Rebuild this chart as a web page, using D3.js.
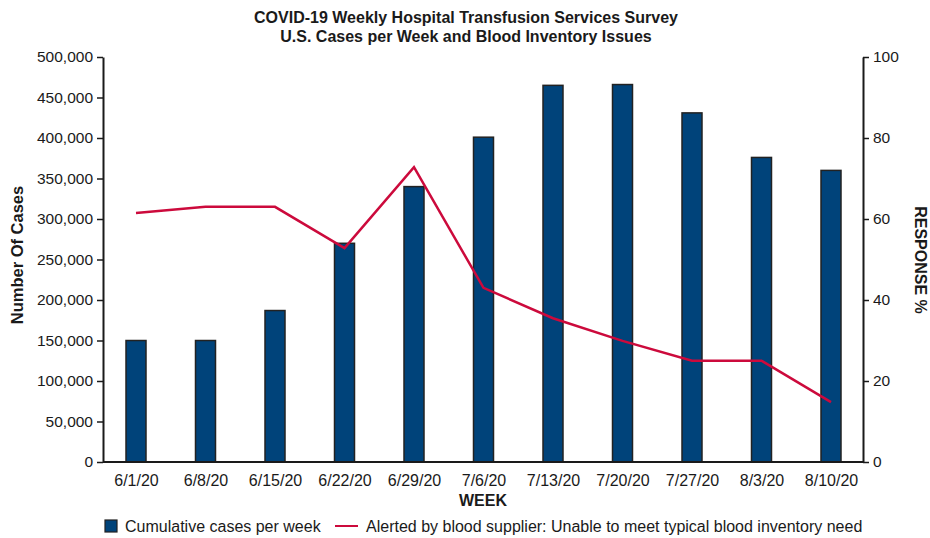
<!DOCTYPE html>
<html>
<head>
<meta charset="utf-8">
<script src="https://cdn.jsdelivr.net/npm/d3@7"></script>
<style>
  body { margin: 0; background: #fff; }
  text { font-family: "Liberation Sans", Arial, sans-serif; fill: #1a1a1a; }
</style>
</head>
<body>
<div id="chart"></div>
<script>
// data
const weeks = ["6/1/20", "6/8/20", "6/15/20", "6/22/20", "6/29/20", "7/6/20",
               "7/13/20", "7/20/20", "7/27/20", "8/3/20", "8/10/20"];
const cases = [150000, 150000, 187000, 270000, 340000, 401000,
               465000, 466000, 431000, 376000, 360000];
const alerted = [61.5, 63, 63, 52.8, 72.8, 43, 35.5, 29.9, 25, 25, 14.8];
const leftTicks = [0, 50000, 100000, 150000, 200000, 250000, 300000, 350000, 400000, 450000, 500000];
const rightTicks = [0, 20, 40, 60, 80, 100];

const W = 930, H = 538;
const margin = {top: 57, right: 67, bottom: 76, left: 103};
const width = W - margin.left - margin.right,
      height = H - margin.top - margin.bottom;

const svg = d3.select("#chart").append("svg")
    .attr("width", W).attr("height", H);

// title
svg.append("text").attr("x", 466).attr("y", 23).attr("text-anchor", "middle")
  .style("font-weight", "bold").style("font-size", "16px")
  .text("COVID-19 Weekly Hospital Transfusion Services Survey");
svg.append("text").attr("x", 466).attr("y", 42).attr("text-anchor", "middle")
  .style("font-weight", "bold").style("font-size", "16px")
  .text("U.S. Cases per Week and Blood Inventory Issues");

const g = svg.append("g").attr("transform", `translate(${margin.left},${margin.top})`);

// week centres sit a little off the band centres in the original
const x = d3.scalePoint().domain(weeks).range([33, width - 32]);
const y = d3.scaleLinear().domain([0, 500000]).range([height, 0]);
const y2 = d3.scaleLinear().domain([0, 100]).range([height, 0]);

// bars
g.selectAll("rect.bar")
  .data(weeks)
  .enter().append("rect")
  .attr("class", "bar")
  .attr("x", (d) => x(d) - 10)
  .attr("width", 20)
  .attr("y", (d, i) => y(cases[i]))
  .attr("height", (d, i) => height - y(cases[i]))
  .attr("fill", "#00437a")
  .attr("stroke", "#222")
  .attr("stroke-width", 1.5);

// line
const line = d3.line()
  .x((d, i) => x(weeks[i]))
  .y((d) => y2(d));
g.append("path")
  .datum(alerted)
  .attr("fill", "none")
  .attr("stroke", "#cc0a3c")
  .attr("stroke-width", 2.5)
  .attr("d", line);

// axes
const fmt = d3.format(",");
const yAxis = g.append("g")
  .call(d3.axisLeft(y).tickValues(leftTicks).tickFormat(fmt).tickSize(6).tickSizeOuter(0));
const y2Axis = g.append("g").attr("transform", `translate(${width},0)`)
  .call(d3.axisRight(y2).tickValues(rightTicks).tickSize(6).tickSizeOuter(0));
const xAxis = g.append("g").attr("transform", `translate(0,${height})`)
  .call(d3.axisBottom(x).tickSize(0).tickSizeOuter(0));
xAxis.select(".domain").attr("d", `M0,0H${width}`);

[yAxis, y2Axis, xAxis].forEach((a) => {
  a.select(".domain").attr("stroke", "#1a1a1a").attr("stroke-width", 2);
  a.selectAll(".tick line").attr("stroke", "#1a1a1a").attr("stroke-width", 1.5);
  a.selectAll("text").style("font-size", "15.5px").attr("fill", "#1a1a1a")
    .style("font-family", "'Liberation Sans', Arial, sans-serif");
});
yAxis.selectAll("text").attr("x", -10);
y2Axis.selectAll("text").attr("x", 10);
xAxis.selectAll("text").attr("dy", "1.3em").style("font-size", "16px");

// axis titles
svg.append("text").attr("x", 483).attr("y", 506).attr("text-anchor", "middle")
  .style("font-weight", "bold").style("font-size", "16px").text("WEEK");
svg.append("text").attr("transform", "translate(23,255) rotate(-90)")
  .attr("text-anchor", "middle").style("font-weight", "bold").style("font-size", "16.5px")
  .text("Number Of Cases");
svg.append("text").attr("transform", "translate(915,260) rotate(90)")
  .attr("text-anchor", "middle").style("font-weight", "bold").style("font-size", "16px")
  .text("RESPONSE %");

// legend
const leg = svg.append("g").attr("transform", "translate(105,526)");
leg.append("rect").attr("x", 0).attr("y", -6).attr("width", 12).attr("height", 12)
  .attr("fill", "#00437a").attr("stroke", "#222").attr("stroke-width", 1.2);
leg.append("text").attr("x", 20).attr("y", 5.5).style("font-size", "16px")
  .text("Cumulative cases per week");
leg.append("line").attr("x1", 230).attr("x2", 253).attr("y1", 0).attr("y2", 0)
  .attr("stroke", "#cc0a3c").attr("stroke-width", 2);
leg.append("text").attr("x", 261).attr("y", 5.5).style("font-size", "16px")
  .text("Alerted by blood supplier: Unable to meet typical blood inventory need");
</script>
</body>
</html>
